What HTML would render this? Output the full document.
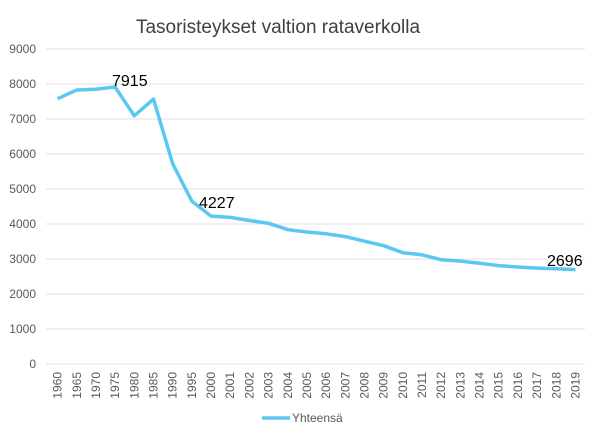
<!DOCTYPE html>
<html><head><meta charset="utf-8"><style>body{margin:0;background:#fff}svg{display:block}</style></head>
<body>
<svg width="600" height="438" xmlns="http://www.w3.org/2000/svg" font-family="Liberation Sans, sans-serif">
<rect width="600" height="438" fill="#fff"/>
<text x="278" y="33" font-size="19" fill="#404040" text-anchor="middle">Tasoristeykset valtion rataverkolla</text>
<g stroke="#e0e0e0" stroke-width="1">
<line x1="46" x2="585" y1="49" y2="49"/><line x1="46" x2="585" y1="84" y2="84"/>
<line x1="46" x2="585" y1="119" y2="119"/><line x1="46" x2="585" y1="154" y2="154"/>
<line x1="46" x2="585" y1="189" y2="189"/><line x1="46" x2="585" y1="224" y2="224"/>
<line x1="46" x2="585" y1="259" y2="259"/><line x1="46" x2="585" y1="294" y2="294"/>
<line x1="46" x2="585" y1="329" y2="329"/><line x1="46" x2="585" y1="364" y2="364"/>
</g>
<g font-size="12" fill="#595959" text-anchor="end">
<text x="36" y="53">9000</text><text x="36" y="88">8000</text><text x="36" y="123">7000</text>
<text x="36" y="158">6000</text><text x="36" y="193">5000</text><text x="36" y="228">4000</text>
<text x="36" y="263">3000</text><text x="36" y="298">2000</text><text x="36" y="333">1000</text>
<text x="36" y="368">0</text>
</g>
<g font-size="12" fill="#595959" text-anchor="end">
<text transform="translate(61.6,372) rotate(-90)">1960</text>
<text transform="translate(80.8,372) rotate(-90)">1965</text>
<text transform="translate(100,372) rotate(-90)">1970</text>
<text transform="translate(119.1,372) rotate(-90)">1975</text>
<text transform="translate(138.3,372) rotate(-90)">1980</text>
<text transform="translate(157.5,372) rotate(-90)">1985</text>
<text transform="translate(176.7,372) rotate(-90)">1990</text>
<text transform="translate(195.9,372) rotate(-90)">1995</text>
<text transform="translate(215,372) rotate(-90)">2000</text>
<text transform="translate(234.2,372) rotate(-90)">2001</text>
<text transform="translate(253.4,372) rotate(-90)">2002</text>
<text transform="translate(272.6,372) rotate(-90)">2003</text>
<text transform="translate(291.8,372) rotate(-90)">2004</text>
<text transform="translate(310.9,372) rotate(-90)">2005</text>
<text transform="translate(330.1,372) rotate(-90)">2006</text>
<text transform="translate(349.3,372) rotate(-90)">2007</text>
<text transform="translate(368.5,372) rotate(-90)">2008</text>
<text transform="translate(387.7,372) rotate(-90)">2009</text>
<text transform="translate(406.8,372) rotate(-90)">2010</text>
<text transform="translate(426,372) rotate(-90)">2011</text>
<text transform="translate(445.2,372) rotate(-90)">2012</text>
<text transform="translate(464.4,372) rotate(-90)">2013</text>
<text transform="translate(483.6,372) rotate(-90)">2014</text>
<text transform="translate(502.7,372) rotate(-90)">2015</text>
<text transform="translate(521.9,372) rotate(-90)">2016</text>
<text transform="translate(541.1,372) rotate(-90)">2017</text>
<text transform="translate(560.3,372) rotate(-90)">2018</text>
<text transform="translate(579.5,372) rotate(-90)">2019</text>
</g>
<polyline fill="none" stroke="#5bc8f0" stroke-width="3.5" stroke-linejoin="round" points="57.6,98.7 76.8,89.95 96,89.25 115.1,87 134.3,115.85 153.5,99.05 172.7,163.8 191.9,201.25 211,216.1 230.2,217.35 249.4,220.5 268.6,223.3 287.8,229.6 306.9,232.05 326.1,233.8 345.3,236.6 364.5,241.15 383.7,245.7 402.8,252.7 422,254.8 441.2,259.7 460.4,261.1 479.6,263.2 498.7,265.65 517.9,267.05 537.1,268.1 556.3,268.8 575.5,269.64"/>
<g font-size="16" fill="#000">
<text x="112" y="86">7915</text><text x="199" y="208">4227</text><text x="547" y="266">2696</text>
</g>
<line x1="262" x2="290" y1="418" y2="418" stroke="#5bc8f0" stroke-width="3.5"/>
<text x="292" y="422" font-size="12" fill="#595959">Yhteensä</text>
</svg>
</body></html>
